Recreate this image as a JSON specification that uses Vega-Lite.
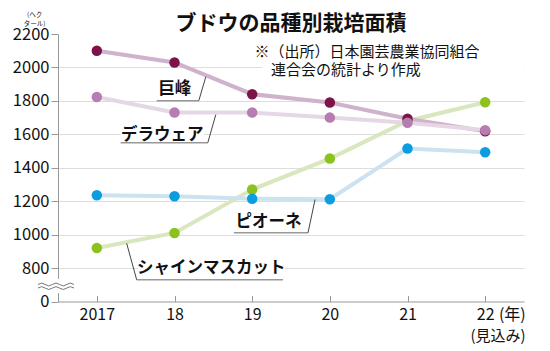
{
  "$schema": "https://vega.github.io/schema/vega-lite/v6.json",
  "width": 466,
  "height": 267.5,
  "autosize": {"type": "none"},
  "padding": {"left": 58, "top": 34, "right": 26, "bottom": 49.5},
  "background": "white",
  "config": {"font": "Noto Sans CJK JP", "view": {"stroke": null}},
  "encoding": {
    "x": {
      "field": "x", "type": "quantitative",
      "scale": {"domain": [2016.5, 2022.5], "nice": false, "zero": false},
      "axis": {
        "values": [2017, 2018, 2019, 2020, 2021, 2022],
        "format": "d",
        "labelExpr": "datum.value == 2017 ? datum.label : slice(datum.label, 2)",
        "title": null, "grid": false,
        "domainColor": "#999999", "tickColor": "#999999", "tickSize": -6,
        "labelPadding": 11, "labelFontSize": 16, "labelColor": "#111111",
        "labelFont": "Noto Sans CJK JP", "labelFlush": false, "labelOverlap": false
      }
    },
    "y": {
      "field": "y", "type": "quantitative",
      "scale": {"domain": [600, 2200], "nice": false, "zero": false},
      "axis": {
        "values": [600, 800, 1000, 1200, 1400, 1600, 1800, 2000, 2200],
        "format": "d",
        "labelExpr": "datum.value == 600 ? '0' : datum.label",
        "title": null, "grid": true,
        "gridColor": {"condition": {"test": "datum.value == 600 || datum.value == 2200", "value": "transparent"}, "value": "#dddddd"},
        "domainColor": "#999999", "tickColor": "#999999", "tickSize": 7,
        "labelPadding": 2, "labelFontSize": 16.5, "labelColor": "#111111",
        "labelFont": "Noto Sans CJK JP", "labelFlush": false, "labelOverlap": false
      }
    }
  },
  "layer": [
    {
      "data": {"values": [
        {"x": 2019.13, "x2": 2022.5, "y": 1926, "y2": 2166},
        {"x": 2017.31, "x2": 2018.38, "y": 1549, "y2": 1645},
        {"x": 2017.53, "x2": 2019.42, "y": 742, "y2": 856},
        {"x": 2016.4, "x2": 2016.6, "y": 650, "y2": 735}
      ]},
      "mark": {"type": "rect", "color": "white"},
      "encoding": {"x2": {"field": "x2"}, "y2": {"field": "y2"}}
    },
    {
      "data": {"values": [{"x": 2016.474, "y": 691}]},
      "mark": {
        "type": "point", "filled": false, "size": 1296, "stroke": "#777777", "strokeWidth": 1, "opacity": 1,
        "shape": "M-1,-0.1 Q-0.8,-0.26 -0.6,-0.1 T-0.2,-0.1 T0.2,-0.1 T0.6,-0.1 T1,-0.1 M-1,0.1 Q-0.8,-0.06 -0.6,0.1 T-0.2,0.1 T0.2,0.1 T0.6,0.1 T1,0.1"
      }
    },
    {
      "data": {"name": "series", "values": [
        {"v": "シャインマスカット", "x": 2017, "y": 920},
        {"v": "シャインマスカット", "x": 2018, "y": 1010},
        {"v": "シャインマスカット", "x": 2019, "y": 1270},
        {"v": "シャインマスカット", "x": 2020, "y": 1455},
        {"v": "シャインマスカット", "x": 2021, "y": 1680},
        {"v": "シャインマスカット", "x": 2022, "y": 1792},
        {"v": "ピオーネ", "x": 2017, "y": 1236},
        {"v": "ピオーネ", "x": 2018, "y": 1230},
        {"v": "ピオーネ", "x": 2019, "y": 1215},
        {"v": "ピオーネ", "x": 2020, "y": 1212},
        {"v": "ピオーネ", "x": 2021, "y": 1515},
        {"v": "ピオーネ", "x": 2022, "y": 1493},
        {"v": "巨峰", "x": 2017, "y": 2100},
        {"v": "巨峰", "x": 2018, "y": 2030},
        {"v": "巨峰", "x": 2019, "y": 1840},
        {"v": "巨峰", "x": 2020, "y": 1790},
        {"v": "巨峰", "x": 2021, "y": 1693},
        {"v": "巨峰", "x": 2022, "y": 1618},
        {"v": "デラウェア", "x": 2017, "y": 1823},
        {"v": "デラウェア", "x": 2018, "y": 1730},
        {"v": "デラウェア", "x": 2019, "y": 1730},
        {"v": "デラウェア", "x": 2020, "y": 1700},
        {"v": "デラウェア", "x": 2021, "y": 1669},
        {"v": "デラウェア", "x": 2022, "y": 1625}
      ]},
      "mark": {"type": "line", "strokeWidth": 4},
      "encoding": {
        "stroke": {
          "field": "v", "type": "nominal", "legend": null,
          "scale": {"domain": ["巨峰", "デラウェア", "ピオーネ", "シャインマスカット"], "range": ["#cfb2cb", "#e6d7e6", "#cde2f1", "#d8e7bd"]}
        }
      }
    },
    {
      "data": {"name": "series"},
      "mark": {"type": "point", "filled": true, "size": 110, "opacity": 1},
      "encoding": {
        "fill": {
          "field": "v", "type": "nominal", "legend": null,
          "scale": {"domain": ["巨峰", "デラウェア", "ピオーネ", "シャインマスカット"], "range": ["#7d1449", "#b77db3", "#0b9de0", "#8bc21e"]}
        }
      }
    },
    {
      "data": {"values": [
        {"x": 2017.771, "x2": 2018.313, "y": 1801, "y2": 1801},
        {"x": 2017.306, "x2": 2018.429, "y": 1550, "y2": 1550},
        {"x": 2018.765, "x2": 2019.719, "y": 1011, "y2": 1011},
        {"x": 2017.513, "x2": 2019.397, "y": 730, "y2": 730}
      ]},
      "mark": {"type": "rule", "color": "#999999", "strokeWidth": 1.5},
      "encoding": {"x2": {"field": "x2"}, "y2": {"field": "y2"}}
    },
    {
      "data": {"values": [
        {"x": 2018.313, "x2": 2018.403, "y": 1801, "y2": 1944},
        {"x": 2018.429, "x2": 2018.532, "y": 1550, "y2": 1718},
        {"x": 2019.719, "x2": 2019.81, "y": 1011, "y2": 1210},
        {"x": 2017.384, "x2": 2017.513, "y": 948, "y2": 730}
      ]},
      "mark": {"type": "rule", "color": "#444444", "strokeWidth": 1},
      "encoding": {"x2": {"field": "x2"}, "y2": {"field": "y2"}}
    },
    {
      "data": {"values": [
        {"x": 2018.003, "y": 1873, "t": "巨峰"},
        {"x": 2017.842, "y": 1597, "t": "デラウェア"},
        {"x": 2019.21, "y": 1077, "t": "ピオーネ"},
        {"x": 2018.474, "y": 802, "t": "シャインマスカット"}
      ]},
      "mark": {"type": "text", "fontSize": 16.5, "fontWeight": "bold", "align": "center", "baseline": "middle", "color": "#111111"},
      "encoding": {"text": {"field": "t"}}
    },
    {
      "data": {"values": [{"x": 2019.5, "y": 2262, "t": "ブドウの品種別栽培面積"}]},
      "mark": {"type": "text", "fontSize": 21, "fontWeight": "bold", "align": "center", "baseline": "middle", "color": "#111111"},
      "encoding": {"text": {"field": "t"}}
    },
    {
      "data": {"values": [
        {"x": 2019.03, "y": 2091, "t": "※（出所）日本園芸農業協同組合"},
        {"x": 2019.242, "y": 1986, "t": "連合会の統計より作成"}
      ]},
      "mark": {"type": "text", "fontSize": 15, "align": "left", "baseline": "middle", "color": "#111111"},
      "encoding": {"text": {"field": "t"}}
    },
    {
      "data": {"values": [
        {"x": 2022.35, "y": 522, "t": "(年)"}
      ]},
      "mark": {"type": "text", "fontSize": 16, "align": "center", "baseline": "middle", "color": "#111111"},
      "encoding": {"text": {"field": "t"}}
    },
    {
      "data": {"values": [
        {"x": 2022.165, "y": 396, "t": "(見込み)"}
      ]},
      "mark": {"type": "text", "fontSize": 15, "align": "center", "baseline": "middle", "color": "#111111"},
      "encoding": {"text": {"field": "t"}}
    },
    {
      "data": {"values": [
        {"x": 2016.2, "y": 2314, "t": "(ヘク\n タール)"}
      ]},
      "mark": {"type": "text", "fontSize": 6.5, "align": "center", "baseline": "middle", "lineBreak": "\n", "lineHeight": 9.5, "color": "#111111"},
      "encoding": {"text": {"field": "t"}}
    }
  ]
}
